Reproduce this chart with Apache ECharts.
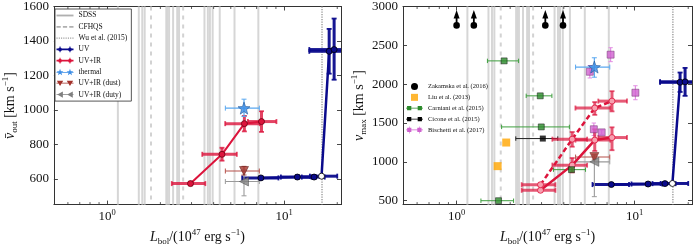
<!DOCTYPE html>
<html><head><meta charset="utf-8">
<script src="https://cdn.jsdelivr.net/npm/echarts@6/dist/echarts.min.js"></script>
<style>html,body{margin:0;padding:0;background:#fff}#c{width:695px;height:251px}</style>
</head><body><div id="c"></div><script>
// ---------------- data ----------------
const LMIN = 0.5, LMAX = 21;
const VOUT_MIN = 450, VOUT_MAX = 1600;
const VMAX_MIN = 450, VMAX_MAX = 3000;

const sdssL = [1.15,1.51,1.58,1.63,2.16,2.19,2.24,2.36,2.49,2.55,3.55,3.71,3.81,3.95,4.33,5.25,7.16];
const cfhqsL = [1.77,2.69];
const wuL = [16.4];
const minorTickL = [0.6,0.7,0.8,0.9,2,3,4,5,6,7,8,9,20];

// UV
const uvL   = [7.4, 11.9, 14.8, 16.3, 18.0, 19.2];
const uvLlo = [5.8, 9.6, 12.6, 14.0, 13.9, 13.9];
const uvLhi = [9.3, 14.3, 17.0, 20.0, 25, 25];
const uvOpen = [false,false,false,true,false,false];
const uvVout   = [605, 610, 610, 615, 1340, 1350];
const uvVoutLo = [597, 600, 600, 607, 1210, 1175];
const uvVoutHi = [613, 620, 620, 623, 1470, 1530];
const uvVmax   = [708, 715, 720, 722, 2025, 2030];
const uvVmaxLo = [690, 695, 700, 705, 1900, 1850];
const uvVmaxHi = [726, 735, 740, 740, 2150, 2210];

// UV+IR
const irL   = [2.96, 4.46, 5.97, 7.46];
const irLlo = [2.32, 3.45, 4.65, 6.25];
const irLhi = [3.59, 5.41, 7.3, 9.06];
const irVout   = [572, 742, 920, 932];
const irVoutLo = [562, 705, 875, 872];
const irVoutHi = [582, 780, 965, 992];
const irVmaxSolid   = [634, 958, 1280, 1313];
const irVmaxSolidLo = [615, 865, 1140, 1150];
const irVmaxSolidHi = [653, 1050, 1420, 1445];
const irVmaxDash    = [706, 1292, 1693, 1782];
const irVmaxDashLo  = [687, 1195, 1605, 1650];
const irVmaxDashHi  = [725, 1385, 1770, 1910];

// thermal / dust / duty
const thL = [5.94], thLlo = [4.66], thLhi = [7.25];
const thVout = [1010], thVoutLo = [962], thVoutHi = [1062];
const thVmax = [2220], thVmaxLo = [2090], thVmaxHi = [2340];
const dustL = [5.94], dustLlo = [4.66], dustLhi = [7.25];
const dustVout = [645], dustVoutLo = [622], dustVoutHi = [672];
const dustVmax = [1062], dustVmaxLo = [1035], dustVmaxHi = [1090];
const dutyL = [5.94], dutyLlo = [4.66], dutyLhi = [7.25];
const dutyVout = [584], dutyVoutLo = [501], dutyVoutHi = [651];
const dutyVmax = [1000], dutyVmaxLo = [552], dutyVmaxHi = [1090];

// literature (v_max panel)
const zakL = [1.0, 1.25, 3.15, 3.96];
const zakV = [2757, 2757, 2757, 2757];
const liuL = [1.70, 1.90];
const liuV = [945, 1249];
const carL   = [1.85, 2.95, 2.99, 4.42, 1.72];
const carLlo = [1.49, 2.46, 1.79, 3.50, 1.37];
const carLhi = [2.23, 3.43, 4.30, 5.30, 2.09];
const carV   = [2300, 1850, 1450, 900, 500];
const cicL = [3.05], cicLlo = [2.15], cicLhi = [3.7];
const cicV = [1300];
const bisL  = [7.33, 5.60, 10.1, 5.90, 6.53];
const bisV  = [2380, 2160, 1890, 1420, 1380];
const bisVlo = [2290, 2080, 1800, 1340, 1350];
const bisVhi = [2470, 2240, 1980, 1500, 1410];

// ---------------- helpers ----------------
const SERIF = 'Liberation Serif';
const NAVY = '#0a0a8c', RED = '#dc143c', STAR = '#3b8de6', DUST = '#a3322b', DUTY = '#808080';

function rows(L, V, Llo, Lhi, Vlo, Vhi) {
  return L.map((l, i) => [l, V[i], Llo ? Llo[i] : l, Lhi ? Lhi[i] : l, Vlo ? Vlo[i] : V[i], Vhi ? Vhi[i] : V[i]]);
}
function errSeries(name, g, data, color, width, cap, opacity, z) {
  return {
    type: 'custom', name, xAxisIndex: g * 2, yAxisIndex: g * 2, data, z, silent: true,
    encode: { x: 0, y: 1 },
    renderItem: (p, api) => {
      const cs = p.coordSys;
      const L = api.value(0), V = api.value(1), a = api.value(2), b = api.value(3), c = api.value(4), d = api.value(5);
      const o = api.coord([L, V]);
      let xa = api.coord([a, V])[0], xb = api.coord([b, V])[0];
      const yc = api.coord([L, c])[1], yd = api.coord([L, d])[1];
      const st = { stroke: color, lineWidth: width, opacity };
      const cst = { stroke: color, lineWidth: Math.max(1, width * 0.6), opacity };
      const ch = [];
      const right = cs.x + cs.width;
      if (b > a) {
        const clipR = xb > right;
        if (clipR) xb = right;
        ch.push({ type: 'line', shape: { x1: xa, y1: o[1], x2: xb, y2: o[1] }, style: st });
        ch.push({ type: 'line', shape: { x1: xa, y1: o[1] - cap, x2: xa, y2: o[1] + cap }, style: cst });
        if (!clipR) ch.push({ type: 'line', shape: { x1: xb, y1: o[1] - cap, x2: xb, y2: o[1] + cap }, style: cst });
      }
      if (d > c) {
        ch.push({ type: 'line', shape: { x1: o[0], y1: yc, x2: o[0], y2: yd }, style: st });
        ch.push({ type: 'line', shape: { x1: o[0] - cap, y1: yc, x2: o[0] + cap, y2: yc }, style: cst });
        ch.push({ type: 'line', shape: { x1: o[0] - cap, y1: yd, x2: o[0] + cap, y2: yd }, style: cst });
      }
      return { type: 'group', children: ch };
    }
  };
}
function vlineSeries(name, g, vals, ymin, color, width, dash, z) {
  return {
    type: 'custom', name, xAxisIndex: g * 2, yAxisIndex: g * 2, z, silent: true,
    data: vals.map(v => [v, ymin]),
    renderItem: (p, api) => {
      const cs = p.coordSys;
      const x = api.coord([api.value(0), api.value(1)])[0];
      return { type: 'line', shape: { x1: x, y1: cs.y, x2: x, y2: cs.y + cs.height },
        style: { stroke: color, lineWidth: width, lineDash: dash } };
    }
  };
}
function minorSeries(g, ymin) {
  return {
    type: 'custom', xAxisIndex: g * 2, yAxisIndex: g * 2, z: 6, silent: true,
    data: minorTickL.map(v => [v, ymin]),
    renderItem: (p, api) => {
      const cs = p.coordSys;
      const x = api.coord([api.value(0), api.value(1)])[0];
      const b = cs.y + cs.height;
      return { type: 'group', children: [
        { type: 'line', shape: { x1: x, y1: b, x2: x, y2: b - 2.5 }, style: { stroke: '#333', lineWidth: 0.8 } },
        { type: 'line', shape: { x1: x, y1: cs.y, x2: x, y2: cs.y + 2.5 }, style: { stroke: '#333', lineWidth: 0.8 } }
      ] };
    }
  };
}
function starPath(cx, r) {
  let s = '';
  for (let i = 0; i < 10; i++) {
    const rr = i % 2 ? r * 0.42 : r;
    const a = -Math.PI / 2 + i * Math.PI / 5;
    s += (i ? 'L' : 'M') + (cx + rr * Math.cos(a)).toFixed(3) + ',' + (rr * Math.sin(a)).toFixed(3);
  }
  return s + 'Z';
}
const STAR_SYMBOL = 'path://' + starPath(0, 1);
function circ(cx, r) { return `M${cx - r},0a${r},${r} 0 1,1 ${2 * r},0a${r},${r} 0 1,1 ${-2 * r},0Z`; }
function rectP(x, y, w, h) { return `M${x},${y}h${w}v${h}h${-w}Z`; }

// legend icons (24 units wide)
const IC_SOLID = 'path://' + rectP(0, -1.3, 24, 2.6);
const IC_DASH = 'path://' + rectP(0, -1.3, 6, 2.6) + rectP(9, -1.3, 6, 2.6) + rectP(18, -1.3, 6, 2.6);
let dots = ''; for (let i = 0; i < 8; i++) dots += rectP(i * 3.3, -0.8, 1.6, 1.6);
const IC_DOT = 'path://' + dots;
const IC_ERR = 'path://' + rectP(0, -1.3, 24, 2.6) + rectP(4.3, -4, 1.4, 8) + rectP(18.3, -4, 1.4, 8) + circ(5, 2.6) + circ(19, 2.6);
const IC_STAR = 'path://' + rectP(0, -0.5, 24, 1) + starPath(5, 5) + starPath(19, 5);
const IC_TRI_D = 'path://' + rectP(0, -0.5, 24, 1) + 'M0.5,-3.5L9.5,-3.5L5,4Z' + 'M14.5,-3.5L23.5,-3.5L19,4Z';
const IC_TRI_L = 'path://' + rectP(0, -0.5, 24, 1) + 'M9,-4.5L9,4.5L1,0Z' + 'M23,-4.5L23,4.5L15,0Z';
const IC_CIRC = 'path://' + circ(12, 3.2);
const IC_SQ = 'path://' + rectP(8, -4, 8, 8);
const IC_SQ2 = 'path://' + rectP(0, -0.5, 24, 1) + rectP(1.5, -3, 6, 6) + rectP(16.5, -3, 6, 6);
const IC_SQ2E = 'path://' + rectP(0, -0.5, 24, 1) + rectP(4.2, -5, 0.8, 10) + rectP(18.6, -5, 0.8, 10) + rectP(1.5, -3, 6, 6) + rectP(16, -3, 6, 6);

// ---------------- axes ----------------
function xAx(g, pos) {
  return {
    type: 'log', logBase: 10, gridIndex: g, position: pos, min: LMIN, max: LMAX,
    axisLine: { show: true, onZero: false, lineStyle: { color: '#333', width: 1 } },
    axisTick: { show: true, inside: true, length: 4, lineStyle: { color: '#333', width: 0.9 } },
    splitLine: { show: false }, minorTick: { show: false },
    axisLabel: pos === 'bottom' ? {
      show: true, margin: 4, color: '#111', fontFamily: SERIF,
      formatter: v => Math.abs(v - 1) < 1e-6 ? '{b|10}{s|0}' : (Math.abs(v - 10) < 1e-6 ? '{b|10}{s|1}' : ''),
      rich: { b: { fontSize: 13, fontFamily: SERIF, color: '#111', lineHeight: 16 },
              s: { fontSize: 8.5, fontFamily: SERIF, color: '#111', verticalAlign: 'top', lineHeight: 10 } }
    } : { show: false },
    name: pos === 'bottom' ? '{i|L}{sb|bol}{n|/(10}{sp|47}{n| erg s}{sp|−1}{n|)}' : '',
    nameLocation: 'middle', nameGap: 17,
    nameTextStyle: { rich: {
      i: { fontSize: 14, fontFamily: SERIF, fontStyle: 'italic', color: '#111', lineHeight: 18 },
      n: { fontSize: 14, fontFamily: SERIF, color: '#111', lineHeight: 18 },
      sb: { fontSize: 9, fontFamily: SERIF, color: '#111', verticalAlign: 'bottom', lineHeight: 9 },
      sp: { fontSize: 9, fontFamily: SERIF, color: '#111', verticalAlign: 'top', lineHeight: 10 }
    } }
  };
}
function yAx(g, pos, min, max, name) {
  return {
    type: 'value', gridIndex: g, position: pos, min, max, splitNumber: 5,
    axisLine: { show: true, onZero: false, lineStyle: { color: '#333', width: 1 } },
    axisTick: { show: true, inside: true, length: 4, lineStyle: { color: '#333', width: 0.9 } },
    splitLine: { show: false },
    axisLabel: pos === 'left' ? { show: true, showMinLabel: false, margin: 5, fontSize: 13, fontFamily: SERIF, color: '#111',
      formatter: v => String(Math.round(v)) } : { show: false },
    name: pos === 'left' ? name : '',
    nameLocation: 'middle', nameRotate: 90, nameGap: 34,
    nameTextStyle: { rich: {
      i: { fontSize: 14, fontFamily: SERIF, fontStyle: 'italic', color: '#111', lineHeight: 18 },
      n: { fontSize: 14, fontFamily: SERIF, color: '#111', lineHeight: 18 },
      sb: { fontSize: 9, fontFamily: SERIF, color: '#111', verticalAlign: 'bottom', lineHeight: 9 },
      sp: { fontSize: 9, fontFamily: SERIF, color: '#111', verticalAlign: 'top', lineHeight: 10 }
    } }
  };
}

// ---------------- series ----------------
const series = [];
const VMINS = [VOUT_MIN, VMAX_MIN];
for (let g = 0; g < 2; g++) {
  series.push(vlineSeries('SDSS', g, sdssL, VMINS[g], '#d6d6d6', 2, null, 1));
  series.push(vlineSeries('CFHQS', g, cfhqsL, VMINS[g], '#d2d2d2', 2, [4, 5], 1));
  series.push(vlineSeries('Wu et al. (2015)', g, wuL, VMINS[g], '#9a9a9a', 1.4, [1.2, 1.3], 1));
  series.push(minorSeries(g, VMINS[g]));
}

function markerLine(name, g, L, V, color, border, dashed, openFlags, openFill, lw) {
  return {
    type: 'line', name, xAxisIndex: g * 2, yAxisIndex: g * 2, z: 4,
    data: L.map((l, i) => (openFlags && openFlags[i] === true) ? { value: [l, V[i]], itemStyle: { color: openFill } } : [l, V[i]]),
    symbol: 'circle', symbolSize: 6, showSymbol: true,
    lineStyle: { color, width: lw, type: dashed ? [5, 3] : 'solid' },
    itemStyle: { color: openFlags === 'all' ? openFill : color, borderColor: border, borderWidth: 0.8 },
    silent: true
  };
}

// left panel
series.push(errSeries('UV', 0, rows(uvL, uvVout, uvLlo, uvLhi, uvVoutLo, uvVoutHi), NAVY, 3, 2.5, 0.95, 3));
series.push(markerLine('UV', 0, uvL, uvVout, NAVY, '#000', false, uvOpen, '#ffffff', 2.5));
series.push(errSeries('UV+IR', 0, rows(irL, irVout, irLlo, irLhi, irVoutLo, irVoutHi), RED, 3, 2.5, 0.8, 3));
series.push(markerLine('UV+IR', 0, irL, irVout, RED, '#6b0012', false, null, null, 2));
series.push(errSeries('thermal', 0, rows(thL, thVout, thLlo, thLhi, thVoutLo, thVoutHi), '#5aa8f0', 1.2, 2.5, 1, 3));
series.push({ type: 'scatter', name: 'thermal', xAxisIndex: 0, yAxisIndex: 0, z: 5, data: thL.map((l, i) => [l, thVout[i]]),
  symbol: STAR_SYMBOL, symbolSize: 12, itemStyle: { color: STAR, borderColor: '#1f4f8f', borderWidth: 0.7 }, silent: true });
series.push(errSeries('UV+IR (dust)', 0, rows(dustL, dustVout, dustLlo, dustLhi, dustVoutLo, dustVoutHi), '#b5514b', 1.1, 2.5, 1, 3));
series.push({ type: 'scatter', name: 'UV+IR (dust)', xAxisIndex: 0, yAxisIndex: 0, z: 5, data: dustL.map((l, i) => [l, dustVout[i]]),
  symbol: 'triangle', symbolRotate: 180, symbolSize: 9, itemStyle: { color: DUST, borderColor: '#5a1510', borderWidth: 0.6 }, silent: true });
series.push(errSeries('UV+IR (duty)', 0, rows(dutyL, dutyVout, dutyLlo, dutyLhi, dutyVoutLo, dutyVoutHi), '#9a9a9a', 1.1, 2.5, 1, 3));
series.push({ type: 'scatter', name: 'UV+IR (duty)', xAxisIndex: 0, yAxisIndex: 0, z: 5, data: dutyL.map((l, i) => [l, dutyVout[i]]),
  symbol: 'triangle', symbolRotate: 90, symbolSize: 9, itemStyle: { color: DUTY, borderColor: '#444', borderWidth: 0.6 }, silent: true });

// right panel
series.push(errSeries('Carniani et al. (2015)', 1, rows(carL, carV, carLlo, carLhi, null, null), '#3f9f3f', 1, 2.2, 1, 3));
series.push({ type: 'scatter', name: 'Carniani et al. (2015)', xAxisIndex: 2, yAxisIndex: 2, z: 5, data: carL.map((l, i) => [l, carV[i]]),
  symbol: 'rect', symbolSize: 6, itemStyle: { color: '#2b8a2b', borderColor: '#111', borderWidth: 0.6 }, silent: true });
series.push(errSeries('Cicone et al. (2015)', 1, rows(cicL, cicV, cicLlo, cicLhi, null, null), '#222', 1, 2.2, 1, 3));
series.push({ type: 'scatter', name: 'Cicone et al. (2015)', xAxisIndex: 2, yAxisIndex: 2, z: 5, data: cicL.map((l, i) => [l, cicV[i]]),
  symbol: 'rect', symbolSize: 6, itemStyle: { color: '#000' }, silent: true });
series.push({ type: 'scatter', name: 'Liu et al. (2013)', xAxisIndex: 2, yAxisIndex: 2, z: 5, data: liuL.map((l, i) => [l, liuV[i]]),
  symbol: 'rect', symbolSize: 8, itemStyle: { color: '#ffa500' }, silent: true });
series.push(errSeries('Bischetti et al. (2017)', 1, rows(bisL, bisV, null, null, bisVlo, bisVhi), '#e38fe3', 1.2, 2.2, 1, 3));
series.push({ type: 'scatter', name: 'Bischetti et al. (2017)', xAxisIndex: 2, yAxisIndex: 2, z: 5, data: bisL.map((l, i) => [l, bisV[i]]),
  symbol: 'rect', symbolSize: 7, itemStyle: { color: '#cf62cf', borderColor: '#6a2a6a', borderWidth: 0.6 }, silent: true });
series.push({ type: 'custom', name: 'Zakamska et al. (2016)', xAxisIndex: 2, yAxisIndex: 2, z: 5, silent: true,
  data: zakL.map((l, i) => [l, zakV[i]]),
  renderItem: (p, api) => {
    const c = api.coord([api.value(0), api.value(1)]);
    return { type: 'group', children: [
      { type: 'line', shape: { x1: c[0], y1: c[1], x2: c[0], y2: c[1] - 10 }, style: { stroke: '#000', lineWidth: 1.8 } },
      { type: 'polygon', shape: { points: [[c[0], c[1] - 15.5], [c[0] - 3, c[1] - 7], [c[0] + 3, c[1] - 7]] }, style: { fill: '#000' } },
      { type: 'circle', shape: { cx: c[0], cy: c[1], r: 3.3 }, style: { fill: '#000' } }
    ] };
  } });

series.push(errSeries('UV', 1, rows(uvL, uvVmax, uvLlo, uvLhi, uvVmaxLo, uvVmaxHi), NAVY, 3, 2.5, 0.95, 3));
series.push(markerLine('UV', 1, uvL, uvVmax, NAVY, '#000', false, uvOpen, '#ffffff', 2.5));
series.push(errSeries('UV+IR', 1, rows(irL, irVmaxSolid, irLlo, irLhi, irVmaxSolidLo, irVmaxSolidHi), RED, 3, 2.5, 0.7, 3));
series.push(errSeries('UV+IR', 1, rows(irL, irVmaxDash, irLlo, irLhi, irVmaxDashLo, irVmaxDashHi), RED, 3, 2.5, 0.7, 3));
series.push(markerLine('UV+IR', 1, irL, irVmaxSolid, RED, RED, false, 'all', '#f7a0b0', 2.5));
series.push(markerLine('UV+IR', 1, irL, irVmaxDash, RED, RED, true, 'all', '#f7a0b0', 2.5));
series.push(errSeries('thermal', 1, rows(thL, thVmax, thLlo, thLhi, thVmaxLo, thVmaxHi), '#5aa8f0', 1.2, 2.5, 1, 3));
series.push({ type: 'scatter', name: 'thermal', xAxisIndex: 2, yAxisIndex: 2, z: 5, data: thL.map((l, i) => [l, thVmax[i]]),
  symbol: STAR_SYMBOL, symbolSize: 12, itemStyle: { color: STAR, borderColor: '#1f4f8f', borderWidth: 0.7 }, silent: true });
series.push(errSeries('UV+IR (dust)', 1, rows(dustL, dustVmax, dustLlo, dustLhi, dustVmaxLo, dustVmaxHi), '#b5514b', 1.1, 2.5, 1, 3));
series.push({ type: 'scatter', name: 'UV+IR (dust)', xAxisIndex: 2, yAxisIndex: 2, z: 5, data: dustL.map((l, i) => [l, dustVmax[i]]),
  symbol: 'triangle', symbolRotate: 180, symbolSize: 9, itemStyle: { color: DUST, borderColor: '#5a1510', borderWidth: 0.6 }, silent: true });
series.push(errSeries('UV+IR (duty)', 1, rows(dutyL, dutyVmax, dutyLlo, dutyLhi, dutyVmaxLo, dutyVmaxHi), '#9a9a9a', 1.1, 2.5, 1, 3));
series.push({ type: 'scatter', name: 'UV+IR (duty)', xAxisIndex: 2, yAxisIndex: 2, z: 5, data: dutyL.map((l, i) => [l, dutyVmax[i]]),
  symbol: 'triangle', symbolRotate: 90, symbolSize: 9, itemStyle: { color: DUTY, borderColor: '#444', borderWidth: 0.6 }, silent: true });

const legText = (fs) => ({ fontFamily: SERIF, fontSize: fs, color: '#111', lineHeight: fs + 0.5 });

const option = {
  animation: false,
  backgroundColor: '#fff',
  grid: [
    { left: 51, top: 5, right: 354, bottom: 36, containLabel: false },
    { left: 403, top: 5, right: 1, bottom: 36, containLabel: false }
  ],
  xAxis: [xAx(0, 'bottom'), xAx(0, 'top'), xAx(1, 'bottom'), xAx(1, 'top')],
  yAxis: [
    yAx(0, 'left', VOUT_MIN, VOUT_MAX, '{i|v̄}{sb|out}{n| [km s}{sp|−1}{n|]}'),
    yAx(0, 'right', VOUT_MIN, VOUT_MAX, ''),
    yAx(1, 'left', VMAX_MIN, VMAX_MAX, '{i|v}{sb|max}{n| [km s}{sp|−1}{n|]}'),
    yAx(1, 'right', VMAX_MIN, VMAX_MAX, '')
  ],
  legend: [
    { left: 55, top: 9, orient: 'vertical', itemWidth: 17, itemHeight: 7.5, itemGap: 3.3,
      padding: [2.5, 4, 2.5, 1.5], backgroundColor: '#fff', borderColor: '#444', borderWidth: 0.9,
      selectedMode: false, symbolKeepAspect: true, z: 10, textStyle: legText(7.5),
      data: [
        { name: 'SDSS', icon: IC_SOLID, itemStyle: { color: '#b0b0b0', borderWidth: 0 } },
        { name: 'CFHQS', icon: IC_DASH, itemStyle: { color: '#b0b0b0', borderWidth: 0 } },
        { name: 'Wu et al. (2015)', icon: IC_DOT, itemStyle: { color: '#999', borderWidth: 0 } },
        { name: 'UV', icon: IC_ERR, itemStyle: { color: NAVY, borderWidth: 0 } },
        { name: 'UV+IR', icon: IC_ERR, itemStyle: { color: RED, borderWidth: 0 } },
        { name: 'thermal', icon: IC_STAR, itemStyle: { color: STAR, borderWidth: 0 } },
        { name: 'UV+IR (dust)', icon: IC_TRI_D, itemStyle: { color: DUST, borderWidth: 0 } },
        { name: 'UV+IR (duty)', icon: IC_TRI_L, itemStyle: { color: DUTY, borderWidth: 0 } }
      ] },
    { left: 406, top: 83, orient: 'vertical', itemWidth: 17, itemHeight: 7, itemGap: 3.85,
      padding: 0, selectedMode: false, symbolKeepAspect: true, z: 10, textStyle: legText(6.5),
      data: [
        { name: 'Zakamska et al. (2016)', icon: IC_CIRC, itemStyle: { color: '#000', borderWidth: 0 } },
        { name: 'Liu et al. (2013)', icon: IC_SQ, itemStyle: { color: '#ffa500', borderWidth: 0 } },
        { name: 'Carniani et al. (2015)', icon: IC_SQ2, itemStyle: { color: '#2b8a2b', borderWidth: 0 } },
        { name: 'Cicone et al. (2015)', icon: IC_SQ2, itemStyle: { color: '#000', borderWidth: 0 } },
        { name: 'Bischetti et al. (2017)', icon: IC_SQ2E, itemStyle: { color: '#cf62cf', borderWidth: 0 } }
      ] }
  ],
  series
};
const chart = echarts.init(document.getElementById('c'), null, { renderer: 'canvas' });
chart.setOption(option);
</script></body></html>
